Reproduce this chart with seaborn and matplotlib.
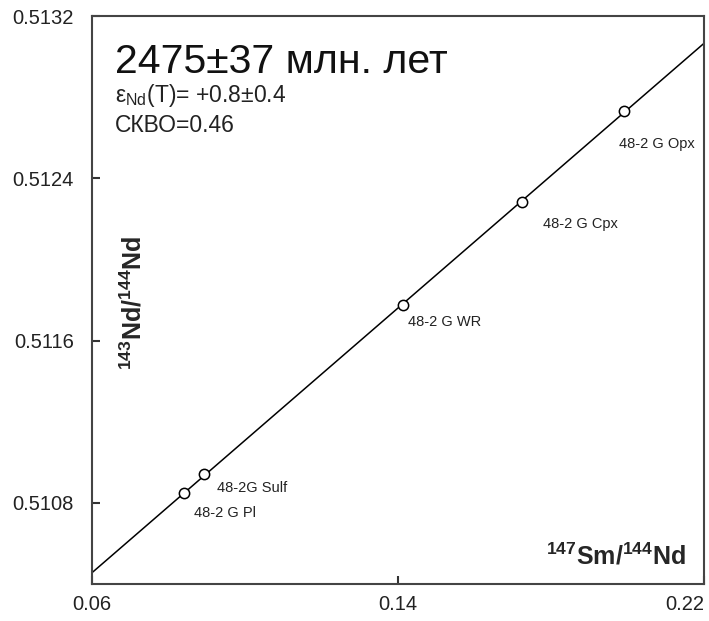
import numpy as np
import pandas as pd
import matplotlib
matplotlib.use('Agg')
import matplotlib.pyplot as plt
import seaborn as sns

# данные изохроны (Sm-Nd)
samples = ['48-2 G Pl', '48-2G Sulf', '48-2 G WR', '48-2 G Cpx', '48-2 G Opx']
sm_nd = [0.0841, 0.0894, 0.1412, 0.1725, 0.1991]
nd_nd = [0.510847, 0.510942, 0.511775, 0.512283, 0.512733]
x_ticks = [0.06, 0.14, 0.22]
y_ticks = [0.5108, 0.5116, 0.5124, 0.5132]

df = pd.DataFrame({'sample': samples, 'sm': sm_nd, 'nd': nd_nd})

sns.set_style('ticks')
plt.rcParams['font.family'] = ['Liberation Sans', 'DejaVu Sans']
plt.rcParams['mathtext.fontset'] = 'custom'
plt.rcParams['mathtext.rm'] = 'Liberation Sans'
plt.rcParams['mathtext.it'] = 'Liberation Sans'
plt.rcParams['mathtext.bf'] = 'Liberation Sans:bold'

fig = plt.figure(figsize=(7.09, 6.21), dpi=100)
ax = fig.add_axes([0.1298, 0.0596, 0.8632, 0.9146])
ax.set_xlim(0.06, 0.22)
ax.set_ylim(0.5104, 0.5132)

# линия регрессии
sns.regplot(data=df, x='sm', y='nd', scatter=False, ci=None, truncate=False,
            line_kws={'color': 'black', 'lw': 1.1}, ax=ax)
sns.scatterplot(data=df, x='sm', y='nd', marker='o', s=55, color='white',
                edgecolor='black', linewidth=1.1, zorder=5, ax=ax)
ax.set_xlim(0.06, 0.22)
ax.set_ylim(0.5104, 0.5132)

# подписи образцов (смещения в пунктах)
offsets = [(7, -14), (9, -10), (4, -12), (15, -16), (-4, -24)]
for name, x, y, off in zip(samples, sm_nd, nd_nd, offsets):
    ax.annotate(name, (x, y), xytext=off, textcoords='offset points',
                ha='left', va='center', fontsize=10.5, color='#222222')

ax.set_xticks(x_ticks)
ax.set_xticklabels([f'{v:.2f}' for v in x_ticks])
ax.set_yticks(y_ticks)
ax.set_yticklabels([f'{v:.4f}' for v in y_ticks])
ax.tick_params(axis='both', direction='in', length=6, width=1.5, labelsize=14.5,
               colors='#333333', labelcolor='#222222')
ax.tick_params(axis='x', pad=8)
ax.tick_params(axis='y', pad=13)
ax.get_xticklabels()[-1].set_horizontalalignment('right')
ax.get_xticklabels()[-1].set_x(0.22)
for sp in ax.spines.values():
    sp.set_visible(True)
    sp.set_linewidth(1.5)
    sp.set_color('#444444')
ax.set_xlabel('')
ax.set_ylabel('')

ax.text(0.038, 0.952, '2475±37 млн. лет', transform=ax.transAxes, fontsize=29.5,
        ha='left', va='top', color='#111111')
ax.text(0.038, 0.8486, r'ε$_{\rm Nd}$(T)= +0.8±0.4', transform=ax.transAxes,
        fontsize=16.5, ha='left', va='baseline', color='#222222')
ax.text(0.038, 0.7958, 'СКВО=0.46', transform=ax.transAxes,
        fontsize=16.5, ha='left', va='baseline', color='#222222')

ax.text(0.9706, 0.0335, r'$^{\mathbf{147}}$Sm/$^{\mathbf{144}}$Nd', transform=ax.transAxes,
        fontsize=18, fontweight='bold', ha='right', va='baseline')
ax.text(0.067, 0.4947, r'$^{\mathbf{143}}$Nd/$^{\mathbf{144}}$Nd', transform=ax.transAxes,
        fontsize=18, fontweight='bold', ha='center', va='center', rotation=90)

fig.savefig('out.png', dpi=100)
